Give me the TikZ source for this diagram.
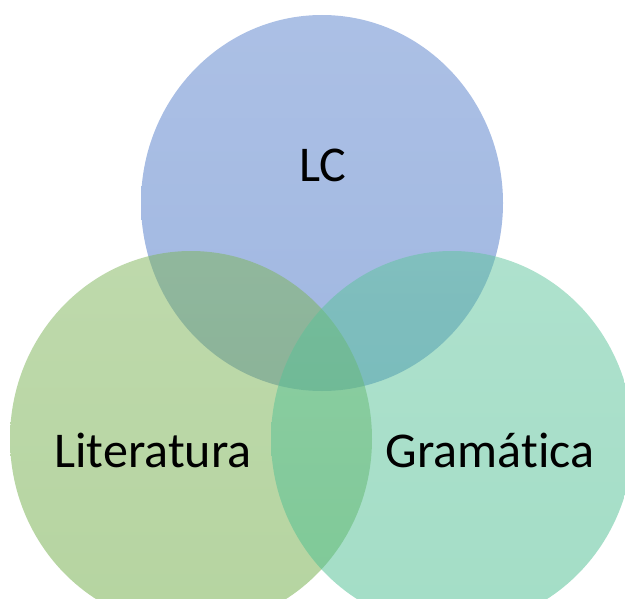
\documentclass[tikz,border=0pt]{standalone}
\usepackage{fontspec}
\setmainfont[Ligatures=NoCommon]{Carlito}
\definecolor{lcblue}{RGB}{66,112,196}
\definecolor{litgreen}{RGB}{108,170,66}
\definecolor{gramteal}{RGB}{72,188,142}

\begin{document}
\begin{tikzpicture}[x=0.02cm, y=-0.02cm,
  set/.style={fill opacity=0.5, draw=none},
  lbl/.style={anchor=base, font=\fontsize{28.5}{34}\selectfont, text=black}]
  \useasboundingbox (0,0) rectangle (625,598);
  \shade[set, top color=lcblue!88!white, bottom color=lcblue] (322,203) ellipse [x radius=181, y radius=188];
  \shade[set, top color=litgreen!88!white, bottom color=litgreen] (191,439) ellipse [x radius=181, y radius=188];
  \shade[set, top color=gramteal!88!white, bottom color=gramteal] (452,439) ellipse [x radius=181, y radius=188];
  \node[lbl] (lc) at (323,181) {LC};
  \node[lbl] (lit) at (153,467) {Literatura};
  \node[lbl] (gram) at (490,467) {Gramática};
\end{tikzpicture}
\end{document}
